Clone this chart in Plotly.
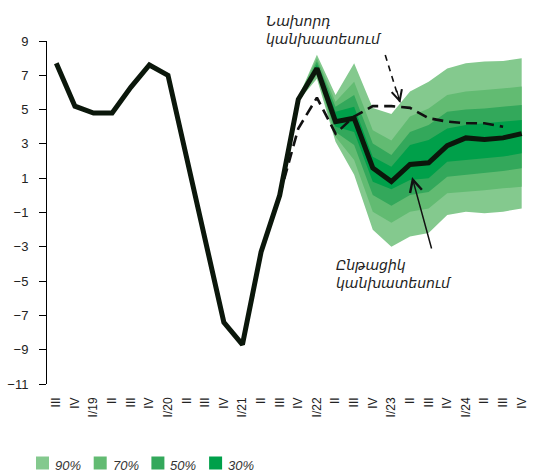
import plotly.graph_objects as go

# ---- data ----
tick_labels = ["III", "IV", "I/19", "II", "III", "IV", "I/20", "II", "III", "IV",
               "I/21", "II", "III", "IV", "I/22", "II", "III", "IV", "I/23", "II",
               "III", "IV", "I/24", "II", "III", "IV"]

current = [7.7, 5.2, 4.8, 4.8, 6.3, 7.6, 7.0, 2.3, -2.4, -7.4,
           -8.7, -3.3, 0.0, 5.6, 7.4, 4.3, 4.5, 1.6, 0.8, 1.8,
           1.9, 2.9, 3.35, 3.25, 3.35, 3.6]

prev_start = 12
previous = [0.0, 3.9, 5.7, 3.6, 4.6, 5.2, 5.2, 5.1, 4.5, 4.3, 4.2, 4.2, 4.0]

fan_start = 13
lo90 = [5.5, 6.8, 3.13, 1.2, -2.0, -3.0, -2.4, -2.2, -1.15, -0.95, -1.05, -0.95, -0.76]
hi90 = [5.7, 8.2, 5.85, 7.7, 5.1, 4.75, 6.05, 6.63, 7.4, 7.7, 7.8, 7.83, 8.0]
lo70 = [5.5, 7.0, 3.42, 2.06, -0.95, -1.6, -0.95, -0.76, 0.12, 0.2, 0.3, 0.41, 0.5]
hi70 = [5.7, 8.0, 5.46, 6.63, 3.8, 3.2, 4.6, 5.07, 5.85, 6.05, 6.14, 6.24, 6.34]
lo50 = [5.55, 7.15, 3.7, 2.94, 0.02, -0.6, 0.02, 0.2, 1.09, 1.2, 1.29, 1.42, 1.58]
hi50 = [5.65, 7.8, 5.17, 5.85, 3.03, 2.35, 3.7, 4.1, 4.88, 5.0, 5.07, 5.17, 5.27]
lo30 = [5.58, 7.25, 4.0, 3.7, 0.8, 0.35, 0.9, 1.0, 1.96, 2.06, 2.16, 2.26, 2.45]
hi30 = [5.62, 7.6, 4.88, 5.17, 2.25, 1.67, 2.94, 3.23, 3.9, 4.1, 4.2, 4.3, 4.4]

band_names = ["90%", "70%", "50%", "30%"]
band_colors = ["#84c98e", "#62bb72", "#33a85b", "#00a04a"]
y_ticks = [9, 7, 5, 3, 1, -1, -3, -5, -7, -9, -11]

# ---- layout geometry (pixels) ----
W, H = 544, 474
ML, MR, MT, MB = 47, 13, 41, 90
PW, PH = W - ML - MR, H - MT - MB


def px_x(px):
    return (px - ML) / PW


def px_y(py):
    return (H - MB - py) / PH


# ---- figure ----
x_all = list(range(len(tick_labels)))
x_fan = x_all[fan_start:fan_start + len(lo90)]
x_prev = x_all[prev_start:prev_start + len(previous)]

fig = go.Figure()
for lo, hi, col in zip([lo90, lo70, lo50, lo30], [hi90, hi70, hi50, hi30], band_colors):
    fig.add_trace(go.Scatter(x=x_fan, y=lo, mode="lines", line=dict(width=0, color=col),
                             showlegend=False, hoverinfo="skip"))
    fig.add_trace(go.Scatter(x=x_fan, y=hi, mode="lines", line=dict(width=0, color=col),
                             fill="tonexty", fillcolor=col, showlegend=False, hoverinfo="skip"))

fig.add_trace(go.Scatter(x=x_prev, y=previous, mode="lines",
                         line=dict(color="#111111", width=2.6, dash="11px,6px"),
                         showlegend=False))
fig.add_trace(go.Scatter(x=x_all, y=current, mode="lines",
                         line=dict(color="#0b170b", width=5),
                         showlegend=False))

# manual legend (squares + italic labels)
for i, (name, col) in enumerate(zip(band_names, band_colors)):
    left = 36 + i * 57.7
    fig.add_shape(type="rect", xref="paper", yref="paper",
                  x0=px_x(left), x1=px_x(left + 13), y0=px_y(469.5), y1=px_y(456.5),
                  fillcolor=col, line=dict(width=0))
    fig.add_annotation(x=px_x(left + 17), y=px_y(465), xref="paper", yref="paper",
                       xanchor="left", yanchor="middle", text=name, showarrow=False,
                       font=dict(family="Arial, Liberation Sans", size=13, color="#333333",
                                 style="italic"))

# dashed arrow (previous forecast)
fig.add_shape(type="line", xref="x", yref="y", x0=17.67, y0=8.18, x1=18.45, y1=5.45,
              line=dict(color="#111111", width=1.6, dash="6px,5px"))
fig.add_annotation(x=18.48, y=5.38, xref="x", yref="y", ax=-4, ay=-14, text="",
                   showarrow=True, arrowhead=5, arrowsize=1.6, arrowwidth=1.3,
                   arrowcolor="#111111")
# solid arrow (current forecast)
fig.add_annotation(x=19.11, y=1.07, xref="x", yref="y", ax=20.18, ay=-3.19,
                   axref="x", ayref="y", text="", showarrow=True, arrowhead=5,
                   arrowsize=1.6, arrowwidth=1.5, arrowcolor="#111111")

fig.add_annotation(x=px_x(264), y=px_y(11), xref="paper", yref="paper", xanchor="left",
                   yanchor="top", text="Նախորդ<br>կանխատեսում", showarrow=False, align="left",
                   font=dict(family="DejaVu Sans", size=14, color="#222222", style="italic"))
fig.add_annotation(x=px_x(334), y=px_y(255), xref="paper", yref="paper", xanchor="left",
                   yanchor="top", text="Ընթացիկ<br>կանխատեսում", showarrow=False, align="left",
                   font=dict(family="DejaVu Sans", size=14, color="#222222", style="italic"))

fig.update_layout(
    width=W, height=H,
    margin=dict(l=ML, r=MR, t=MT, b=MB),
    plot_bgcolor="white", paper_bgcolor="white",
    font=dict(family="Arial, Liberation Sans", color="#222222"),
    showlegend=False,
    xaxis=dict(range=[-0.5, 25.5], tickvals=x_all, ticktext=tick_labels, tickangle=-90,
               showgrid=False, zeroline=False, showline=False, ticks="",
               ticklabelstandoff=10, automargin=False,
               tickfont=dict(size=12, color="#222222")),
    yaxis=dict(range=[-11, 9], tickvals=y_ticks, showgrid=False, zeroline=False,
               showline=True, linecolor="#000000", linewidth=1, ticks="outside",
               ticklen=7, tickcolor="#000000", ticklabelstandoff=8, automargin=False,
               tickfont=dict(size=13, color="#222222")),
)

fig.write_html("out.html", config={"displayModeBar": False},
               post_script="document.body.style.margin='0';document.body.style.overflow='hidden';")
